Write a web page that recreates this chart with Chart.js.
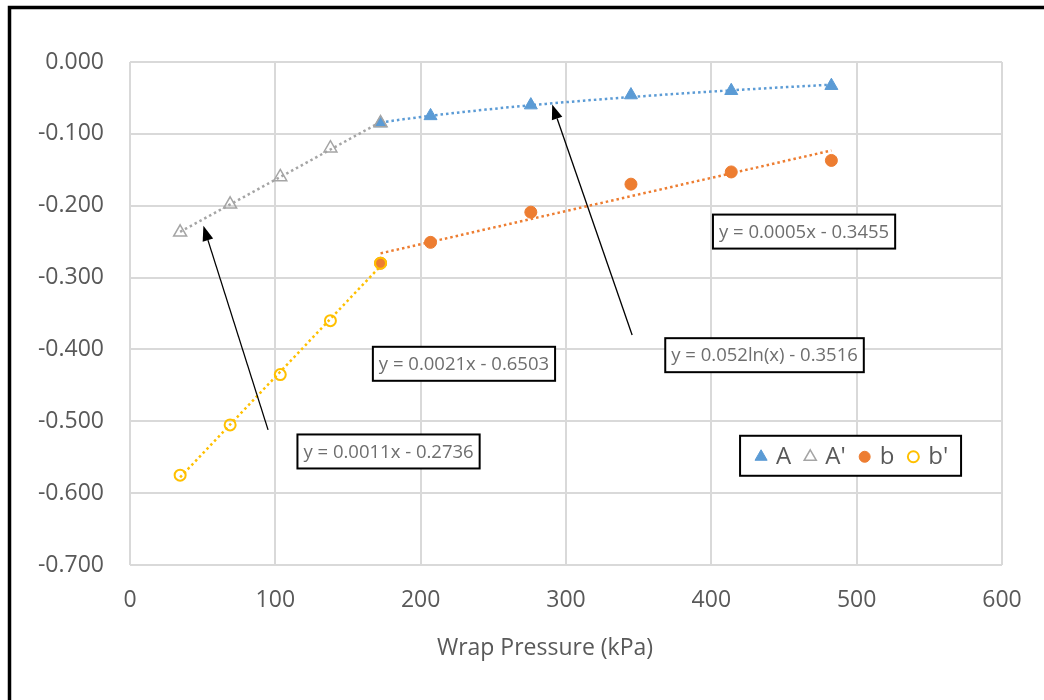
<!DOCTYPE html>
<html>
<head>
<meta charset="utf-8">
<script src="https://cdn.jsdelivr.net/npm/chart.js@4/dist/chart.umd.min.js"></script>
<style>
  html, body { margin: 0; padding: 0; background: #fff; }
  #wrap { position: relative; width: 1044px; height: 700px; }
</style>
</head>
<body>
<div id="wrap"><canvas id="pressure" width="1044" height="700"></canvas></div>
<script>
// wrap pressure (kPa) and measured response for each series
const kpaA = [172.4, 206.8, 275.8, 344.7, 413.7, 482.6];
const valA = [-0.085, -0.075, -0.060, -0.046, -0.040, -0.033];
const kpaA2 = [34.5, 68.9, 103.4, 137.9, 172.4];
const valA2 = [-0.237, -0.198, -0.160, -0.120, -0.085];
const kpaB = [172.4, 206.8, 275.8, 344.7, 413.7, 482.6];
const valB = [-0.280, -0.251, -0.209, -0.170, -0.153, -0.137];
const kpaB2 = [34.5, 68.9, 103.4, 137.9, 172.4];
const valB2 = [-0.575, -0.505, -0.435, -0.360, -0.280];

const seriesNames = ['A', "A'", 'b', "b'"];
const xTicks = [0, 100, 200, 300, 400, 500, 600];
const yTicks = [0, -0.1, -0.2, -0.3, -0.4, -0.5, -0.6, -0.7];

const FONT = "'Open Sans', 'Liberation Sans', sans-serif";
const GREY_TEXT = '#595959';

function pts(xs, ys) {
    return xs.map((x, i) => ({ x: x, y: ys[i] }));
}

// least squares y = m*f(x) + c
function fit(xs, ys, f) {
    f = f || (v => v);
    const u = xs.map(f);
    const n = u.length;
    const mu = u.reduce((s, v) => s + v, 0) / n;
    const my = ys.reduce((s, v) => s + v, 0) / n;
    let sxy = 0, sxx = 0;
    u.forEach((v, i) => {
        sxy += (v - mu) * (ys[i] - my);
        sxx += (v - mu) * (v - mu);
    });
    const m = sxy / sxx;
    const c = my - m * mu;
    return x => m * f(x) + c;
}

const trends = [
    { xs: kpaA2, fn: fit(kpaA2, valA2), color: '#A5A5A5' },
    { xs: kpaB2, fn: fit(kpaB2, valB2), color: '#FFC000' },
    { xs: kpaB, fn: fit(kpaB, valB), color: '#ED7D31' },
    { xs: kpaA, fn: fit(kpaA, valA, Math.log), color: '#5B9BD5' },
];

// equation boxes, anchored at their centre in data units
const equations = [
    { text: 'y = 0.0005x - 0.3455', x: 463.8, y: -0.236 },
    { text: 'y = 0.052ln(x) - 0.3516', x: 436.6, y: -0.408 },
    { text: 'y = 0.0021x - 0.6503', x: 229.8, y: -0.420 },
    { text: 'y = 0.0011x - 0.2736', x: 177.9, y: -0.542 },
];

// pointer arrows: from tail to head, data units
const arrows = [
    { from: [95, -0.512], to: [50.5, -0.228] },
    { from: [345.5, -0.380], to: [290.5, -0.059] },
];

const frame = {
    id: 'frame',
    beforeDraw(chart) {
        const ctx = chart.ctx;
        ctx.save();
        ctx.fillStyle = '#fff';
        ctx.fillRect(0, 0, chart.width, chart.height);
        ctx.strokeStyle = '#000';
        ctx.lineWidth = 3.5;
        ctx.beginPath();
        ctx.moveTo(chart.width, 7.5);
        ctx.lineTo(9.5, 7.5);
        ctx.lineTo(9.5, chart.height);
        ctx.stroke();
        ctx.restore();
    }
};

const trendlines = {
    id: 'trendlines',
    beforeDatasetsDraw(chart) {
        const ctx = chart.ctx;
        const xs = chart.scales.x, ys = chart.scales.y;
        ctx.save();
        ctx.lineWidth = 2.5;
        ctx.setLineDash([2.5, 3]);
        trends.forEach(t => {
            const x0 = Math.min(...t.xs), x1 = Math.max(...t.xs);
            ctx.strokeStyle = t.color;
            ctx.beginPath();
            for (let i = 0; i <= 60; i++) {
                const x = x0 + (x1 - x0) * i / 60;
                const px = xs.getPixelForValue(x), py = ys.getPixelForValue(t.fn(x));
                if (i === 0) ctx.moveTo(px, py); else ctx.lineTo(px, py);
            }
            ctx.stroke();
        });
        ctx.restore();
    }
};

const notes = {
    id: 'notes',
    afterDatasetsDraw(chart) {
        const ctx = chart.ctx;
        const xs = chart.scales.x, ys = chart.scales.y;
        ctx.save();

        // arrows
        ctx.strokeStyle = '#000';
        ctx.fillStyle = '#000';
        ctx.lineWidth = 1.3;
        arrows.forEach(a => {
            const x0 = xs.getPixelForValue(a.from[0]), y0 = ys.getPixelForValue(a.from[1]);
            const x1 = xs.getPixelForValue(a.to[0]), y1 = ys.getPixelForValue(a.to[1]);
            const ang = Math.atan2(y1 - y0, x1 - x0);
            const len = 15, half = 5.5;
            const bx = x1 - len * Math.cos(ang), by = y1 - len * Math.sin(ang);
            ctx.beginPath();
            ctx.moveTo(x0, y0);
            ctx.lineTo(bx, by);
            ctx.stroke();
            ctx.beginPath();
            ctx.moveTo(x1, y1);
            ctx.lineTo(bx + half * Math.sin(ang), by - half * Math.cos(ang));
            ctx.lineTo(bx - half * Math.sin(ang), by + half * Math.cos(ang));
            ctx.closePath();
            ctx.fill();
        });

        // trendline equations
        ctx.font = '18.5px ' + FONT;
        ctx.textBaseline = 'middle';
        ctx.textAlign = 'center';
        equations.forEach(e => {
            const cx = xs.getPixelForValue(e.x), cy = ys.getPixelForValue(e.y);
            const w = ctx.measureText(e.text).width + 12, h = 34;
            ctx.fillStyle = '#fff';
            ctx.fillRect(cx - w / 2, cy - h / 2, w, h);
            ctx.strokeStyle = '#000';
            ctx.lineWidth = 2;
            ctx.strokeRect(cx - w / 2, cy - h / 2, w, h);
            ctx.fillStyle = '#6e6e6e';
            ctx.fillText(e.text, cx, cy + 1);
        });

        // legend box
        const lx = xs.getPixelForValue(495.8), ly = ys.getPixelForValue(-0.548);
        const lw = 221, lh = 40;
        ctx.fillStyle = '#fff';
        ctx.fillRect(lx - lw / 2, ly - lh / 2, lw, lh);
        ctx.strokeStyle = '#000';
        ctx.lineWidth = 2;
        ctx.strokeRect(lx - lw / 2, ly - lh / 2, lw, lh);
        ctx.font = '24px ' + FONT;
        ctx.textAlign = 'left';
        let cur = lx - lw / 2 + 14;
        chart.data.datasets.slice().sort((p, q) => p.legendIndex - q.legendIndex).forEach(ds => {
            const mx = cur + 7;
            ctx.fillStyle = ds.backgroundColor;
            ctx.strokeStyle = ds.borderColor;
            ctx.lineWidth = ds.borderWidth;
            Chart.helpers.drawPoint(ctx, {
                pointStyle: ds.pointStyle,
                radius: ds.pointStyle === 'triangle' ? 7 : 5.5,
                borderWidth: ds.borderWidth,
                rotation: 0
            }, mx, ly + 1);
            ctx.fillStyle = GREY_TEXT;
            ctx.fillText(ds.label, cur + 22, ly + 1);
            cur += 22 + ctx.measureText(ds.label).width + 12;
        });

        // x axis title
        ctx.font = '23px ' + FONT;
        ctx.textAlign = 'center';
        ctx.fillStyle = GREY_TEXT;
        ctx.fillText('Wrap Pressure (kPa)', chart.chartArea.left + 415, 648);

        ctx.restore();
    }
};

new Chart(
    document.getElementById('pressure'),
    {
        type: 'scatter',
        data: {
            datasets: [
                {
                    label: seriesNames[0], legendIndex: 0, order: 4,
                    data: pts(kpaA, valA),
                    pointStyle: 'triangle', pointRadius: 7.5,
                    backgroundColor: '#5B9BD5', borderColor: '#5B9BD5', borderWidth: 1,
                },
                {
                    label: seriesNames[1], legendIndex: 1, order: 3,
                    data: pts(kpaA2, valA2),
                    pointStyle: 'triangle', pointRadius: 7.5,
                    backgroundColor: 'rgba(255,255,255,0)', borderColor: '#A5A5A5', borderWidth: 1.5,
                },
                {
                    label: seriesNames[2], legendIndex: 2, order: 2,
                    data: pts(kpaB, valB),
                    pointStyle: 'circle', pointRadius: 6,
                    backgroundColor: '#ED7D31', borderColor: '#ED7D31', borderWidth: 1,
                },
                {
                    label: seriesNames[3], legendIndex: 3, order: 1,
                    data: pts(kpaB2, valB2),
                    pointStyle: 'circle', pointRadius: 5.5,
                    backgroundColor: 'rgba(255,255,255,0)', borderColor: '#FFC000', borderWidth: 2,
                },
            ]
        },
        options: {
            responsive: false,
            animation: false,
            layout: { padding: { top: 62, right: 42, left: 0, bottom: 0 } },
            plugins: {
                legend: { display: false },
                tooltip: { enabled: false },
            },
            scales: {
                x: {
                    type: 'linear',
                    min: xTicks[0],
                    max: xTicks[xTicks.length - 1],
                    afterFit(scale) { scale.height = 135; },
                    afterBuildTicks(scale) { scale.ticks = xTicks.map(v => ({ value: v })); },
                    ticks: {
                        color: GREY_TEXT,
                        font: { family: FONT, size: 23 },
                        padding: 22,
                    },
                    grid: { color: '#D9D9D9', lineWidth: 2, drawTicks: false },
                    border: { display: false },
                },
                y: {
                    type: 'linear',
                    min: yTicks[yTicks.length - 1],
                    max: yTicks[0],
                    afterFit(scale) { scale.width = 130; },
                    afterBuildTicks(scale) { scale.ticks = yTicks.map(v => ({ value: v })); },
                    ticks: {
                        color: GREY_TEXT,
                        font: { family: FONT, size: 23 },
                        padding: 26,
                        callback: v => v.toFixed(3),
                    },
                    grid: { color: '#D9D9D9', lineWidth: 2, drawTicks: false },
                    border: { display: false },
                },
            },
        },
        plugins: [frame, trendlines, notes],
    }
);
</script>
</body>
</html>
